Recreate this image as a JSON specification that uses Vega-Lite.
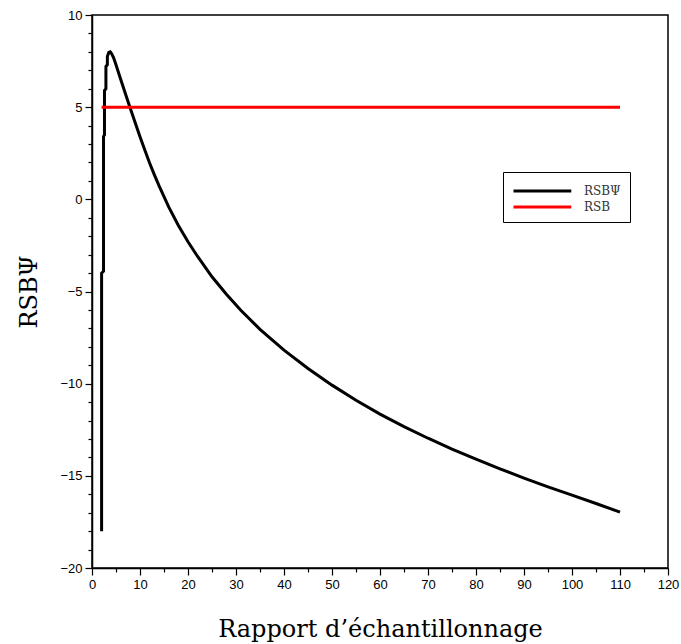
{
  "$schema": "https://vega.github.io/schema/vega-lite/v6.json",
  "autosize": "none",
  "width": 576,
  "height": 553,
  "padding": {"left": 92, "top": 15, "right": 13, "bottom": 76},
  "background": "white",
  "config": {
    "view": {"stroke": "black", "strokeWidth": 1.5},
    "axis": {
      "domainColor": "black",
      "domainWidth": 1.5,
      "tickColor": "black",
      "tickWidth": 1.2,
      "labelFont": "Liberation Sans",
      "labelFontSize": 13,
      "labelColor": "black",
      "titleFont": "DejaVu Serif",
      "titleFontSize": 24,
      "titleFontWeight": "normal",
      "titleColor": "black",
      "grid": false
    }
  },
  "data": {
    "values": [
      {"i": 0, "s": "RSBΨ", "x": 2.0, "y": -18.0},
      {"i": 1, "s": "RSBΨ", "x": 2.0, "y": -4.0},
      {"i": 2, "s": "RSBΨ", "x": 2.4, "y": -3.9},
      {"i": 3, "s": "RSBΨ", "x": 2.4, "y": 3.4},
      {"i": 4, "s": "RSBΨ", "x": 2.6, "y": 3.5},
      {"i": 5, "s": "RSBΨ", "x": 2.6, "y": 5.9},
      {"i": 6, "s": "RSBΨ", "x": 2.9, "y": 6.0},
      {"i": 7, "s": "RSBΨ", "x": 2.9, "y": 7.2},
      {"i": 8, "s": "RSBΨ", "x": 3.2, "y": 7.3},
      {"i": 9, "s": "RSBΨ", "x": 3.2, "y": 7.75},
      {"i": 10, "s": "RSBΨ", "x": 3.5, "y": 7.97},
      {"i": 11, "s": "RSBΨ", "x": 3.8, "y": 8.0},
      {"i": 12, "s": "RSBΨ", "x": 4.1, "y": 7.9},
      {"i": 13, "s": "RSBΨ", "x": 4.5, "y": 7.68},
      {"i": 14, "s": "RSBΨ", "x": 5.0, "y": 7.3},
      {"i": 15, "s": "RSBΨ", "x": 5.8, "y": 6.65},
      {"i": 16, "s": "RSBΨ", "x": 7.0, "y": 5.7},
      {"i": 17, "s": "RSBΨ", "x": 7.9, "y": 5.0},
      {"i": 18, "s": "RSBΨ", "x": 9.0, "y": 4.15},
      {"i": 19, "s": "RSBΨ", "x": 10.0, "y": 3.4},
      {"i": 20, "s": "RSBΨ", "x": 11.0, "y": 2.67},
      {"i": 21, "s": "RSBΨ", "x": 12.0, "y": 1.97},
      {"i": 22, "s": "RSBΨ", "x": 13.0, "y": 1.33},
      {"i": 23, "s": "RSBΨ", "x": 14.0, "y": 0.72},
      {"i": 24, "s": "RSBΨ", "x": 16.0, "y": -0.42},
      {"i": 25, "s": "RSBΨ", "x": 18.0, "y": -1.42},
      {"i": 26, "s": "RSBΨ", "x": 20.0, "y": -2.3},
      {"i": 27, "s": "RSBΨ", "x": 22.0, "y": -3.1},
      {"i": 28, "s": "RSBΨ", "x": 25.0, "y": -4.2},
      {"i": 29, "s": "RSBΨ", "x": 28.0, "y": -5.15},
      {"i": 30, "s": "RSBΨ", "x": 31.0, "y": -6.02},
      {"i": 31, "s": "RSBΨ", "x": 35.0, "y": -7.05},
      {"i": 32, "s": "RSBΨ", "x": 40.0, "y": -8.18},
      {"i": 33, "s": "RSBΨ", "x": 45.0, "y": -9.18},
      {"i": 34, "s": "RSBΨ", "x": 50.0, "y": -10.08},
      {"i": 35, "s": "RSBΨ", "x": 55.0, "y": -10.9},
      {"i": 36, "s": "RSBΨ", "x": 60.0, "y": -11.65},
      {"i": 37, "s": "RSBΨ", "x": 65.0, "y": -12.33},
      {"i": 38, "s": "RSBΨ", "x": 70.0, "y": -12.96},
      {"i": 39, "s": "RSBΨ", "x": 75.0, "y": -13.55},
      {"i": 40, "s": "RSBΨ", "x": 80.0, "y": -14.1},
      {"i": 41, "s": "RSBΨ", "x": 85.0, "y": -14.62},
      {"i": 42, "s": "RSBΨ", "x": 90.0, "y": -15.12},
      {"i": 43, "s": "RSBΨ", "x": 95.0, "y": -15.6},
      {"i": 44, "s": "RSBΨ", "x": 100.0, "y": -16.05},
      {"i": 45, "s": "RSBΨ", "x": 105.0, "y": -16.5},
      {"i": 46, "s": "RSBΨ", "x": 110.0, "y": -16.97},
      {"i": 0, "s": "RSB", "x": 2.0, "y": 5.0},
      {"i": 1, "s": "RSB", "x": 110.0, "y": 5.0}
    ]
  },
  "mark": {"type": "line", "strokeWidth": 3, "clip": true},
  "encoding": {
    "x": {
      "field": "x",
      "type": "quantitative",
      "scale": {"domain": [0, 120], "nice": false, "zero": false},
      "axis": {
        "title": "Rapport d’échantillonnage",
        "values": [0,5,10,15,20,25,30,35,40,45,50,55,60,65,70,75,80,85,90,95,100,105,110,115,120],
        "labelExpr": "datum.value % 10 === 0 ? datum.label : ''",
        "tickSize": {"condition": {"test": "datum.value % 10 === 0", "value": 7}, "value": 4},
        "labelPadding": 3,
        "labelFlush": false,
        "labelOverlap": false,
        "titlePadding": 26
      }
    },
    "y": {
      "field": "y",
      "type": "quantitative",
      "scale": {"domain": [-20, 10], "nice": false, "zero": false},
      "axis": {
        "title": "RSBΨ",
        "values": [-20,-19,-18,-17,-16,-15,-14,-13,-12,-11,-10,-9,-8,-7,-6,-5,-4,-3,-2,-1,0,1,2,3,4,5,6,7,8,9,10],
        "labelExpr": "datum.value % 5 === 0 ? datum.label : ''",
        "tickSize": {"condition": {"test": "datum.value % 5 === 0", "value": 7}, "value": 4},
        "labelPadding": 3,
        "labelFlush": false,
        "labelOverlap": false,
        "titlePadding": 18
      }
    },
    "color": {
      "field": "s",
      "type": "nominal",
      "scale": {"domain": ["RSBΨ", "RSB"], "range": ["black", "red"]},
      "legend": {
        "title": null,
        "orient": "none",
        "legendX": 411,
        "legendY": 157,
        "strokeColor": "black",
        "fillColor": "white",
        "padding": 9,
        "rowPadding": 0,
        "symbolType": "M-1,0H5.8",
        "symbolSize": 289,
        "symbolStrokeWidth": 3,
        "labelFont": "DejaVu Serif",
        "labelFontSize": 12,
        "labelColor": "#333",
        "labelOffset": 52
      }
    },
    "order": {"field": "i", "type": "quantitative"}
  }
}
